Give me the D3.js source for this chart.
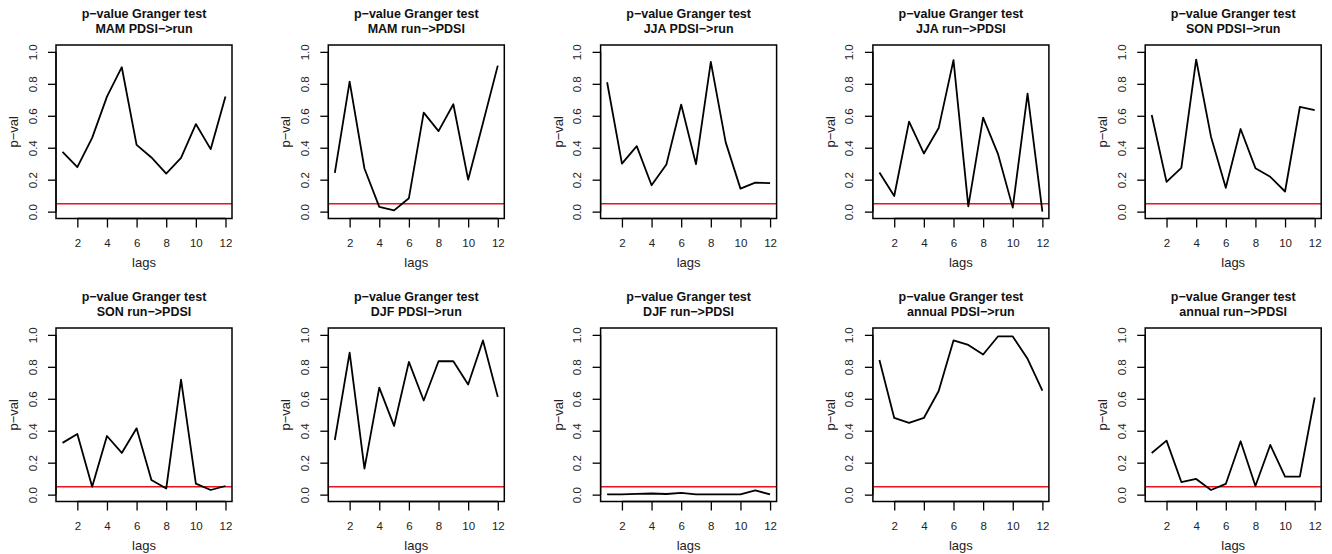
<!DOCTYPE html>
<html>
<head>
<meta charset="utf-8">
<script src="https://cdn.jsdelivr.net/npm/d3@7"></script>
<style>
  body { margin: 0; background: #fff; }
  svg { display: block; font-family: 'Liberation Sans', Arial, sans-serif; }
</style>
</head>
<body>
<svg id="chart" width="1332" height="554"></svg>
<script>
// lags 1..12
const lags = [1, 2, 3, 4, 5, 6, 7, 8, 9, 10, 11, 12];
const xTicks = [2, 4, 6, 8, 10, 12];
const yTicks = [0, 0.2, 0.4, 0.6, 0.8, 1.0];
const threshold = 0.05;

const panelTitles = [
  'MAM PDSI\u2212>run', 'MAM run\u2212>PDSI', 'JJA PDSI\u2212>run', 'JJA run\u2212>PDSI', 'SON PDSI\u2212>run',
  'SON run\u2212>PDSI', 'DJF PDSI\u2212>run', 'DJF run\u2212>PDSI', 'annual PDSI\u2212>run', 'annual run\u2212>PDSI'
];

// p-values
const mamPdsiRun = [0.374, 0.278, 0.462, 0.72, 0.904, 0.418, 0.339, 0.238, 0.337, 0.548, 0.391, 0.72];
const mamRunPdsi = [0.243, 0.814, 0.27, 0.03, 0.008, 0.084, 0.62, 0.504, 0.672, 0.2, 0.555, 0.914];
const jjaPdsiRun = [0.81, 0.30, 0.41, 0.165, 0.295, 0.67, 0.297, 0.937, 0.435, 0.144, 0.182, 0.178];
const jjaRunPdsi = [0.245, 0.098, 0.563, 0.364, 0.523, 0.948, 0.033, 0.588, 0.362, 0.025, 0.738, 0.0];
const sonPdsiRun = [0.605, 0.186, 0.274, 0.952, 0.469, 0.149, 0.517, 0.272, 0.218, 0.126, 0.655, 0.636];
const sonRunPdsi = [0.324, 0.38, 0.05, 0.367, 0.261, 0.415, 0.092, 0.038, 0.72, 0.069, 0.029, 0.054];
const djfPdsiRun = [0.342, 0.889, 0.163, 0.67, 0.43, 0.831, 0.589, 0.835, 0.835, 0.689, 0.965, 0.612];
const djfRunPdsi = [0.001, 0.002, 0.005, 0.007, 0.004, 0.011, 0.002, 0.001, 0.001, 0.001, 0.026, 0.002];
const annPdsiRun = [0.843, 0.48, 0.449, 0.48, 0.649, 0.965, 0.937, 0.877, 0.99, 0.99, 0.85, 0.651];
const annRunPdsi = [0.261, 0.338, 0.079, 0.098, 0.029, 0.067, 0.334, 0.054, 0.311, 0.113, 0.113, 0.608];

const series = [mamPdsiRun, mamRunPdsi, jjaPdsiRun, jjaRunPdsi, sonPdsiRun,
  sonRunPdsi, djfPdsiRun, djfRunPdsi, annPdsiRun, annRunPdsi];

let boxLeft0 = 56;
let colStep = 272.3;
let boxTop0 = 45;
let rowStep = 283;
let boxW = 176;
let boxH = 173.5;
let textColor = '#222';
let tickFont = '11.5px';
let labelFont = '13px';

const svg = d3.select('#chart');

const drawPanel = (values, title, idx) => {
  let col = idx % 5;
  let row = Math.floor(idx / 5);
  let left = boxLeft0 + col * colStep;
  let top = boxTop0 + row * rowStep;

  let x = d3.scaleLinear().domain([0.56, 12.44]).range([0, boxW]);
  let y = d3.scaleLinear().domain([-0.043, 1.043]).range([boxH, 0]);

  let g = svg.append('g')
    .attr('class', 'panel')
    .attr('transform', 'translate(' + left + ',' + top + ')');

  // title, two lines
  let t = g.append('text')
    .attr('x', boxW / 2)
    .attr('text-anchor', 'middle')
    .style('font-size', '12.5px')
    .style('font-weight', 'bold')
    .attr('fill', '#111');
  t.append('tspan').attr('x', boxW / 2).attr('y', -27).text('p\u2212value Granger test');
  t.append('tspan').attr('x', boxW / 2).attr('y', -12.5).text(title);

  // axes
  let xAxis = d3.axisBottom(x).tickValues(xTicks).tickSize(9).tickPadding(11);
  let gx = g.append('g')
    .attr('transform', 'translate(0,' + boxH + ')')
    .call(xAxis);
  gx.select('.domain')
    .attr('d', 'M' + x(xTicks[0]) + ',0H' + x(xTicks[xTicks.length - 1]))
    .attr('stroke-width', 1.3);
  gx.selectAll('.tick line').attr('stroke-width', 1.3);
  gx.selectAll('.tick text')
    .style('font-size', tickFont)
    .attr('fill', textColor);

  let yAxis = d3.axisLeft(y).tickValues(yTicks).tickSize(8).tickFormat(d3.format('.1f'));
  let gy = g.append('g').call(yAxis);
  gy.select('.domain')
    .attr('d', 'M0,' + y(yTicks[0]) + 'V' + y(yTicks[yTicks.length - 1]))
    .attr('stroke-width', 1.3);
  gy.selectAll('.tick line').attr('stroke-width', 1.3);
  gy.selectAll('.tick text')
    .attr('x', null)
    .attr('dy', null)
    .attr('text-anchor', 'middle')
    .attr('transform', 'translate(-19.5,0) rotate(-90)')
    .style('font-size', tickFont)
    .attr('fill', textColor);
  g.selectAll('g').attr('font-family', null).attr('font-size', null);

  // axis titles
  g.append('text')
    .attr('x', boxW / 2)
    .attr('y', boxH + 48.5)
    .attr('text-anchor', 'middle')
    .style('font-size', labelFont)
    .attr('fill', textColor)
    .text('lags');
  g.append('text')
    .attr('transform', 'translate(-38,' + (boxH / 2) + ') rotate(-90)')
    .attr('text-anchor', 'middle')
    .style('font-size', labelFont)
    .attr('fill', textColor)
    .text('p\u2212val');

  // significance line
  g.append('line')
    .attr('x1', 0)
    .attr('x2', boxW)
    .attr('y1', y(threshold))
    .attr('y2', y(threshold))
    .attr('stroke', '#e8131b')
    .attr('stroke-width', 1.5);

  let line = d3.line()
    .x((d, i) => x(lags[i]))
    .y(d => y(d));

  g.append('path')
    .attr('d', line(values))
    .attr('fill', 'none')
    .attr('stroke', '#000')
    .attr('stroke-width', 1.8)
    .attr('stroke-linejoin', 'round');

  // box
  g.append('rect')
    .attr('x', 0)
    .attr('y', 0)
    .attr('width', boxW)
    .attr('height', boxH)
    .attr('fill', 'none')
    .attr('stroke', '#000')
    .attr('stroke-width', 1.5);
};

for (let i = 0; i < series.length; i++) {
  drawPanel(series[i], panelTitles[i], i);
}
</script>
</body>
</html>
